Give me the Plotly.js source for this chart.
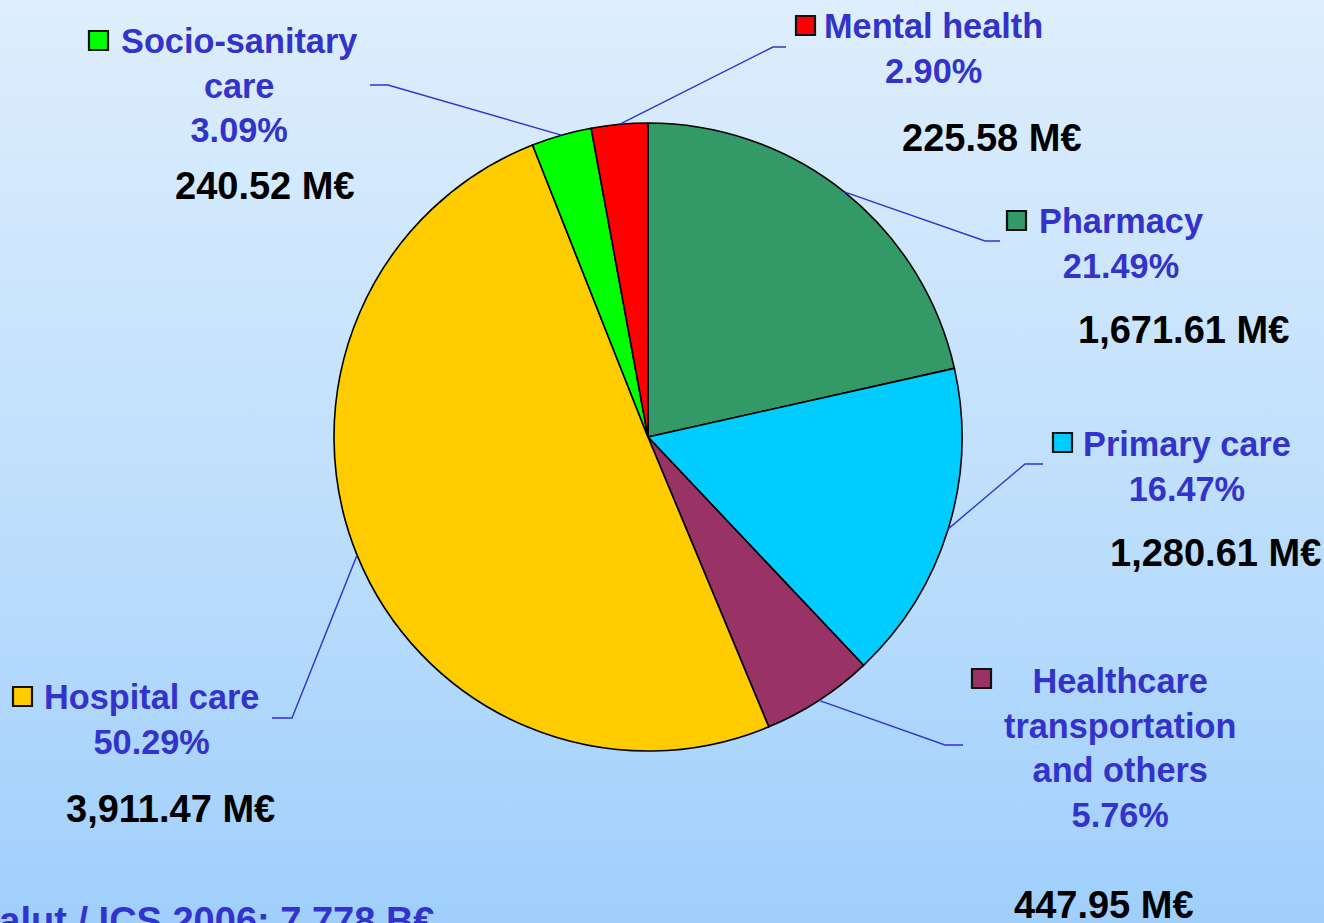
<!DOCTYPE html>
<html>
<head>
<meta charset="utf-8">
<script src="https://cdn.plot.ly/plotly-3.0.1.min.js"></script>
<style>
html,body{margin:0;padding:0;width:1324px;height:923px;overflow:hidden;
background:linear-gradient(to bottom, rgb(222,238,252) 0%, rgb(190,223,252) 55%, rgb(160,207,252) 100%);}
#chart{width:1324px;height:923px;}
</style>
</head>
<body>
<div id="chart"></div>
<script>
// ---- data ----
const categories = ["Pharmacy", "Primary care", "Healthcare transportation and others", "Hospital care", "Socio-sanitary care", "Mental health"];
const labelLines = [["Pharmacy"], ["Primary care"], ["Healthcare", "transportation", "and others"], ["Hospital care"], ["Socio-sanitary", "care"], ["Mental health"]];
const valuesMEur = [1671.61, 1280.61, 447.95, 3911.47, 240.52, 225.58];
const percentLabels = ["21.49%", "16.47%", "5.76%", "50.29%", "3.09%", "2.90%"];
const valueLabels = ["1,671.61 M€", "1,280.61 M€", "447.95 M€", "3,911.47 M€", "240.52 M€", "225.58 M€"];
const sliceColors = ["#339966", "#00CCFF", "#993366", "#FFCC00", "#00FF00", "#FF0000"];
const footerText = "Salut / ICS 2006: 7,778 B€";

// ---- layout geometry (pixels) ----
const W = 1324, H = 923;
const cx = 648, cy = 437, R = 314;
const px = x => x / W;
const py = y => 1 - y / H;

// label block placement: text center x, block center y, legend square left/top, value center, leader elbow & end
const place = [
  {tx:1121, ty:243.5, sx:1007, sy:211, vx:1183, vy:330, ex:985,  ey:241, hx:1000},
  {tx:1187, ty:466.5, sx:1053, sy:433, vx:1215, vy:553, ex:1025, ey:464, hx:1043},
  {tx:1120, ty:748,   sx:972,  sy:669, vx:1104, vy:905, ex:945,  ey:745, hx:963},
  {tx:151,  ty:719.5, sx:13,   sy:687, vx:170,  vy:809, ex:292,  ey:718, hx:272},
  {tx:239,  ty:86,    sx:89,   sy:31,  vx:265,  vy:186, ex:388,  ey:85,  hx:370},
  {tx:934,  ty:48.5,  sx:796,  sy:16,  vx:992,  vy:138, ex:773,  ey:47,  hx:786}
];

const total = valuesMEur.reduce((a, b) => a + b, 0);
const blue = "#3333CC";
const fontFam = "'Liberation Sans', Arial, sans-serif";

const annotations = [];
const shapes = [];
let cum = 0;
valuesMEur.forEach((v, i) => {
  const mid = (cum + v / 2) / total;
  cum += v;
  const ang = mid * 2 * Math.PI;
  const sx0 = cx + R * Math.sin(ang), sy0 = cy - R * Math.cos(ang);
  const p = place[i];
  // leader line
  shapes.push({type:"path", xref:"paper", yref:"paper",
    path:`M ${px(sx0)} ${py(sy0)} L ${px(p.ex)} ${py(p.ey)} L ${px(p.hx)} ${py(p.ey)}`,
    line:{color:blue, width:1.4}});
  // legend square
  shapes.push({type:"rect", xref:"paper", yref:"paper",
    x0:px(p.sx), x1:px(p.sx + 19), y0:py(p.sy), y1:py(p.sy + 19),
    fillcolor:sliceColors[i], line:{color:"#111111", width:2.2}});
  // category + percent text
  annotations.push({xref:"paper", yref:"paper", x:px(p.tx), y:py(p.ty),
    xanchor:"center", yanchor:"middle", showarrow:false, align:"center",
    text: labelLines[i].concat([percentLabels[i]]).join("<br>"),
    font:{family:fontFam, size:34.3, color:blue, weight:"bold"}});
  // value text
  annotations.push({xref:"paper", yref:"paper", x:px(p.vx), y:py(p.vy),
    xanchor:"center", yanchor:"middle", showarrow:false,
    text: valueLabels[i],
    font:{family:fontFam, size:38, color:"#000000", weight:"bold"}});
});

annotations.push({xref:"paper", yref:"paper", x:px(436), y:py(921),
  xanchor:"right", yanchor:"middle", showarrow:false, text:footerText,
  font:{family:fontFam, size:38, color:blue, weight:"bold"}});

const trace = {
  type:"pie",
  labels:categories,
  values:valuesMEur,
  sort:false,
  direction:"clockwise",
  rotation:0,
  textinfo:"none",
  hoverinfo:"label+value+percent",
  marker:{colors:sliceColors, line:{color:"#000000", width:1.6}},
  domain:{x:[px(cx - R), px(cx + R)], y:[py(cy + R), py(cy - R)]},
  showlegend:false
};

const layout = {
  width:W, height:H,
  margin:{l:0, r:0, t:0, b:0},
  paper_bgcolor:"rgba(0,0,0,0)",
  plot_bgcolor:"rgba(0,0,0,0)",
  showlegend:false,
  annotations:annotations,
  shapes:shapes
};

Plotly.newPlot("chart", [trace], layout, {displayModeBar:false, staticPlot:true});
</script>
</body>
</html>
